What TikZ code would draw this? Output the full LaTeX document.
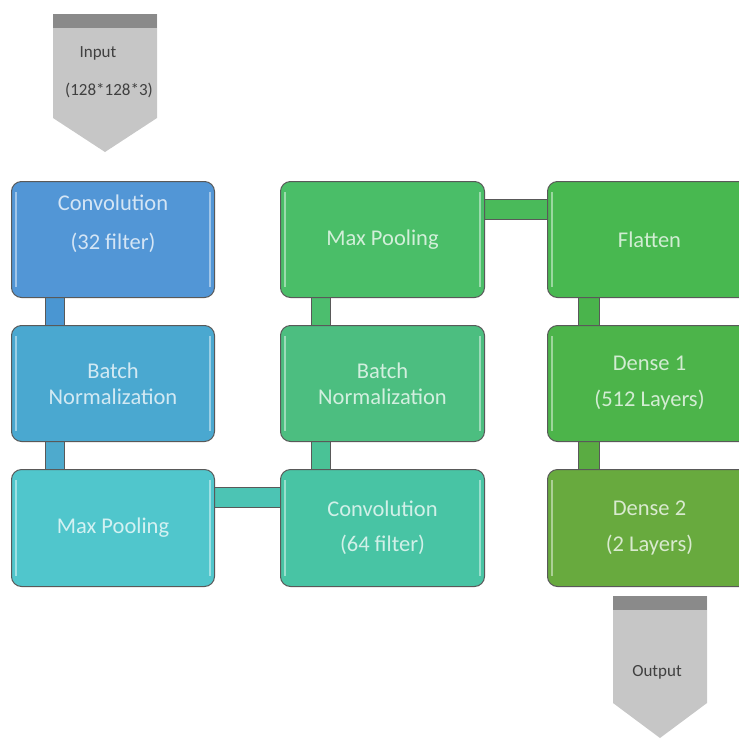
\documentclass[tikz,border=0pt]{standalone}
\usepackage{fontspec}
\setmainfont{Carlito}
\pgfdeclarelayer{bg}
\pgfsetlayers{bg,main}
\definecolor{cA}{RGB}{82,150,214}
\definecolor{cB}{RGB}{74,168,208}
\definecolor{cC}{RGB}{80,198,204}
\definecolor{cD}{RGB}{72,196,164}
\definecolor{cE}{RGB}{76,190,128}
\definecolor{cF}{RGB}{74,190,104}
\definecolor{cG}{RGB}{72,184,80}
\definecolor{cH}{RGB}{76,180,74}
\definecolor{cI}{RGB}{104,170,62}
\definecolor{bAB}{RGB}{74,150,210}
\definecolor{bBC}{RGB}{78,170,205}
\definecolor{bCD}{RGB}{76,196,180}
\definecolor{bDE}{RGB}{74,194,150}
\definecolor{bEF}{RGB}{76,190,110}
\definecolor{bFG}{RGB}{74,186,90}
\definecolor{bGH}{RGB}{74,180,76}
\definecolor{bHI}{RGB}{90,172,66}
\definecolor{arrbody}{RGB}{198,198,198}
\definecolor{arrband}{RGB}{138,138,138}
\begin{document}
\begin{tikzpicture}[x=1pt,y=-1pt,
  box/.style={draw=black!65, line width=1pt, rounded corners=10pt,
    minimum width=203pt, minimum height=116pt, fill=#1, text=#1!25!white,
    font=\fontsize{22.5}{26}\selectfont, align=center, inner sep=0pt, anchor=north west},
  txt/.style={text=#1!25!white, font=\fontsize{22.5}{26}\selectfont, align=center, inner sep=0pt},
  bar/.style={line width=1pt, draw=black!65, double=#1, double distance=19pt},
  hl/.style={draw=#1!55!white, line width=1.5pt},
  arrtxt/.style={text=black!75, font=\fontsize{17}{20}\selectfont, inner sep=0pt}]
\useasboundingbox (0,0) rectangle (739,740);
\clip (0,0) rectangle (739,740);

% input arrow
\fill[arrbody] (53,14) -- (157,14) -- (157,118) -- (105,152) -- (53,118) -- cycle;
\fill[arrband] (53,14) rectangle (157,28);
\node[arrtxt] (intxt) at (98,53) {Input};
\node[arrtxt] (insize) at (109,90) {(128*128*3)};

% boxes
\node[box=cA] (c1) at (11,181) {};
\node[txt=cA] (c1t) at ([yshift=16pt]c1.center) {Convolution\\[13pt](32 filter)};
\node[box=cB] (c2) at (11,325) {Batch\\Normalization};
\node[box=cC, minimum height=117pt] (c3) at (11,469) {Max Pooling};
\node[box=cD, minimum height=117pt, minimum width=204pt] (c4) at (280,469) {Convolution\\[9pt](64 filter)};
\node[box=cE, minimum width=204pt] (c5) at (280,325) {Batch\\Normalization};
\node[box=cF, minimum width=204pt] (c6) at (280,181) {Max Pooling};
\node[box=cG, minimum width=204pt] (c7) at (547,181) {Flatten};
\node[box=cH, minimum width=204pt] (c8) at (547,325) {Dense 1\\[10pt](512 Layers)};
\node[box=cI, minimum height=117pt, minimum width=204pt] (c9) at (547,469) {Dense 2\\[10pt](2 Layers)};

% highlights
\foreach \n/\c in {c1/cA,c2/cB,c3/cC,c4/cD,c5/cE,c6/cF,c7/cG,c8/cH,c9/cI}{
  \draw[hl=\c] ([xshift=5pt,yshift=-11pt]\n.north west) -- ([xshift=5pt,yshift=11pt]\n.south west);
  \draw[hl=\c] ([xshift=-5pt,yshift=-11pt]\n.north east) -- ([xshift=-5pt,yshift=11pt]\n.south east);
}

% connector bars
\begin{pgfonlayer}{bg}
\draw[bar=bAB, double distance=18pt] ([xshift=44pt]c1.south west) -- ([xshift=44pt]c2.north west);
\draw[bar=bBC, double distance=18pt] ([xshift=44pt]c2.south west) -- ([xshift=44pt]c3.north west);
\draw[bar=bCD] ([yshift=-28.5pt]c3.north east) -- ([yshift=-28.5pt]c4.north west);
\draw[bar=bDE, double distance=18pt] ([xshift=40.5pt]c4.north west) -- ([xshift=40.5pt]c5.south west);
\draw[bar=bEF, double distance=18pt] ([xshift=40.5pt]c5.north west) -- ([xshift=40.5pt]c6.south west);
\draw[bar=bFG] ([yshift=-28pt]c6.north east) -- ([yshift=-28pt]c7.north west);
\draw[bar=bGH, double distance=20pt] ([xshift=42pt]c7.south west) -- ([xshift=42pt]c8.north west);
\draw[bar=bHI, double distance=20pt] ([xshift=42pt]c8.south west) -- ([xshift=42pt]c9.north west);
\end{pgfonlayer}

% output arrow
\fill[arrbody] (613,596) -- (707,596) -- (707,703) -- (660,738) -- (613,703) -- cycle;
\fill[arrband] (613,596) rectangle (707,610);
\node[arrtxt] (outtxt) at (657,672) {Output};
\end{tikzpicture}
\end{document}
